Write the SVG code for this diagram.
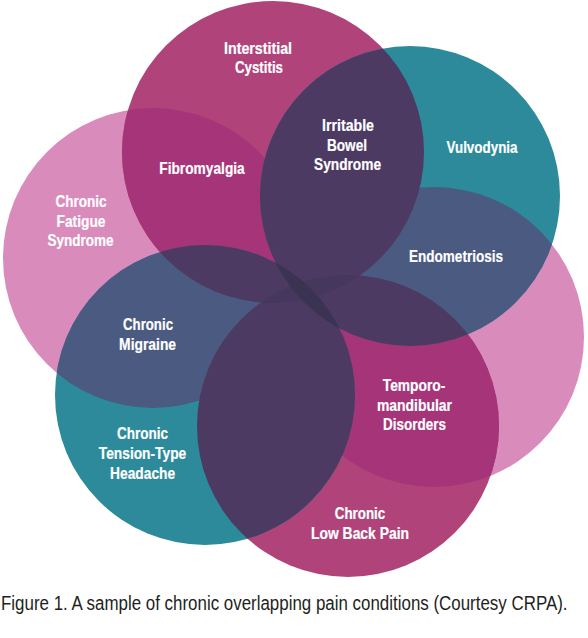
<svg xmlns="http://www.w3.org/2000/svg" width="588" height="638" viewBox="0 0 588 638">
<style>
.pink{fill:#d98bbc}
.mag{fill:#b0447a}
.teal{fill:#2c8a9a}
.pm{fill:#a63478}
.tp{fill:#4a5a80}
.tm{fill:#4c3a62}
.tt{fill:#3b3352}
.mm{fill:#46375c}
.lbl{font-family:"Liberation Sans",Arial,sans-serif;font-weight:bold;font-size:16.5px;fill:#ffffff;stroke:#ffffff;stroke-width:0.2;text-anchor:middle}
.cap{font-family:"Liberation Sans",Arial,sans-serif;font-size:20px;fill:#231f20}
</style>
<defs>
<clipPath id="kA"><circle cx="273" cy="152" r="151"/></clipPath>
<clipPath id="kB"><circle cx="410" cy="196" r="150"/></clipPath>
<clipPath id="kC"><circle cx="434" cy="337" r="150"/></clipPath>
<clipPath id="kD"><circle cx="348" cy="426" r="151"/></clipPath>
<clipPath id="kE"><circle cx="205" cy="395" r="150"/></clipPath>
<clipPath id="kF"><circle cx="153" cy="258" r="150"/></clipPath>
</defs>
<rect width="588" height="638" fill="#ffffff"/>
<g id="circles">
<circle id="circle-cfs" class="pink" cx="153" cy="258" r="150"/>
<circle id="circle-tmd" class="pink" cx="434" cy="337" r="150"/>
<circle id="circle-ic" class="mag" cx="273" cy="152" r="151"/>
<circle id="circle-lbp" class="mag" cx="348" cy="426" r="151"/>
<circle id="circle-vulvo" class="teal" cx="410" cy="196" r="150"/>
<circle id="circle-tth" class="teal" cx="205" cy="395" r="150"/>
</g>
<g id="overlaps">
<circle class="pm" cx="273" cy="152" r="151" clip-path="url(#kF)"/>
<circle class="pm" cx="273" cy="152" r="151" clip-path="url(#kC)"/>
<circle class="pm" cx="348" cy="426" r="151" clip-path="url(#kC)"/>
<circle class="pm" cx="348" cy="426" r="151" clip-path="url(#kF)"/>
<circle class="pm" cx="273" cy="152" r="151" clip-path="url(#kD)"/>
<circle class="tp" cx="410" cy="196" r="150" clip-path="url(#kC)"/>
<circle class="tp" cx="410" cy="196" r="150" clip-path="url(#kF)"/>
<circle class="tp" cx="205" cy="395" r="150" clip-path="url(#kC)"/>
<circle class="tp" cx="205" cy="395" r="150" clip-path="url(#kF)"/>
<circle class="tm" cx="410" cy="196" r="150" clip-path="url(#kA)"/>
<circle class="tm" cx="410" cy="196" r="150" clip-path="url(#kD)"/>
<circle class="tm" cx="205" cy="395" r="150" clip-path="url(#kA)"/>
<circle class="tm" cx="205" cy="395" r="150" clip-path="url(#kD)"/>
<circle class="mm" cx="273" cy="152" r="151" clip-path="url(#kD)"/>
<circle class="tt" cx="410" cy="196" r="150" clip-path="url(#kE)"/>
</g>
<g id="ic" class="node"><text class="lbl" x="258" y="53.5" textLength="68" lengthAdjust="spacingAndGlyphs">Interstitial</text><text class="lbl" x="259" y="73" textLength="48" lengthAdjust="spacingAndGlyphs">Cystitis</text></g>
<g id="ibs" class="node"><text class="lbl" x="348" y="131" textLength="52" lengthAdjust="spacingAndGlyphs">Irritable</text><text class="lbl" x="347" y="150.5" textLength="40" lengthAdjust="spacingAndGlyphs">Bowel</text><text class="lbl" x="347.5" y="170" textLength="67" lengthAdjust="spacingAndGlyphs">Syndrome</text></g>
<g id="vulvodynia" class="node"><text class="lbl" x="482" y="153" textLength="71" lengthAdjust="spacingAndGlyphs">Vulvodynia</text></g>
<g id="fibromyalgia" class="node"><text class="lbl" x="202" y="173.5" textLength="85.5" lengthAdjust="spacingAndGlyphs">Fibromyalgia</text></g>
<g id="cfs" class="node"><text class="lbl" x="81" y="207" textLength="51" lengthAdjust="spacingAndGlyphs">Chronic</text><text class="lbl" x="81" y="226.5" textLength="49" lengthAdjust="spacingAndGlyphs">Fatigue</text><text class="lbl" x="80.6" y="246" textLength="66" lengthAdjust="spacingAndGlyphs">Syndrome</text></g>
<g id="endometriosis" class="node"><text class="lbl" x="456" y="262" textLength="94" lengthAdjust="spacingAndGlyphs">Endometriosis</text></g>
<g id="migraine" class="node"><text class="lbl" x="148" y="330" textLength="50" lengthAdjust="spacingAndGlyphs">Chronic</text><text class="lbl" x="147.6" y="349.5" textLength="57" lengthAdjust="spacingAndGlyphs">Migraine</text></g>
<g id="tmd" class="node"><text class="lbl" x="414" y="391" textLength="62.5" lengthAdjust="spacingAndGlyphs">Temporo-</text><text class="lbl" x="414.5" y="410.5" textLength="75" lengthAdjust="spacingAndGlyphs">mandibular</text><text class="lbl" x="414.6" y="430" textLength="63" lengthAdjust="spacingAndGlyphs">Disorders</text></g>
<g id="tth" class="node"><text class="lbl" x="142.6" y="439" textLength="51" lengthAdjust="spacingAndGlyphs">Chronic</text><text class="lbl" x="142.5" y="459" textLength="87.5" lengthAdjust="spacingAndGlyphs">Tension-Type</text><text class="lbl" x="142.6" y="479" textLength="65" lengthAdjust="spacingAndGlyphs">Headache</text></g>
<g id="lbp" class="node"><text class="lbl" x="360" y="519" textLength="50.5" lengthAdjust="spacingAndGlyphs">Chronic</text><text class="lbl" x="360" y="539" textLength="98" lengthAdjust="spacingAndGlyphs">Low Back Pain</text></g>
<g id="caption"><text class="cap" transform="translate(1 610) scale(0.846 1)" x="0" y="0">Figure 1. A sample of chronic overlapping pain conditions (Courtesy CRPA).</text></g>
</svg>
